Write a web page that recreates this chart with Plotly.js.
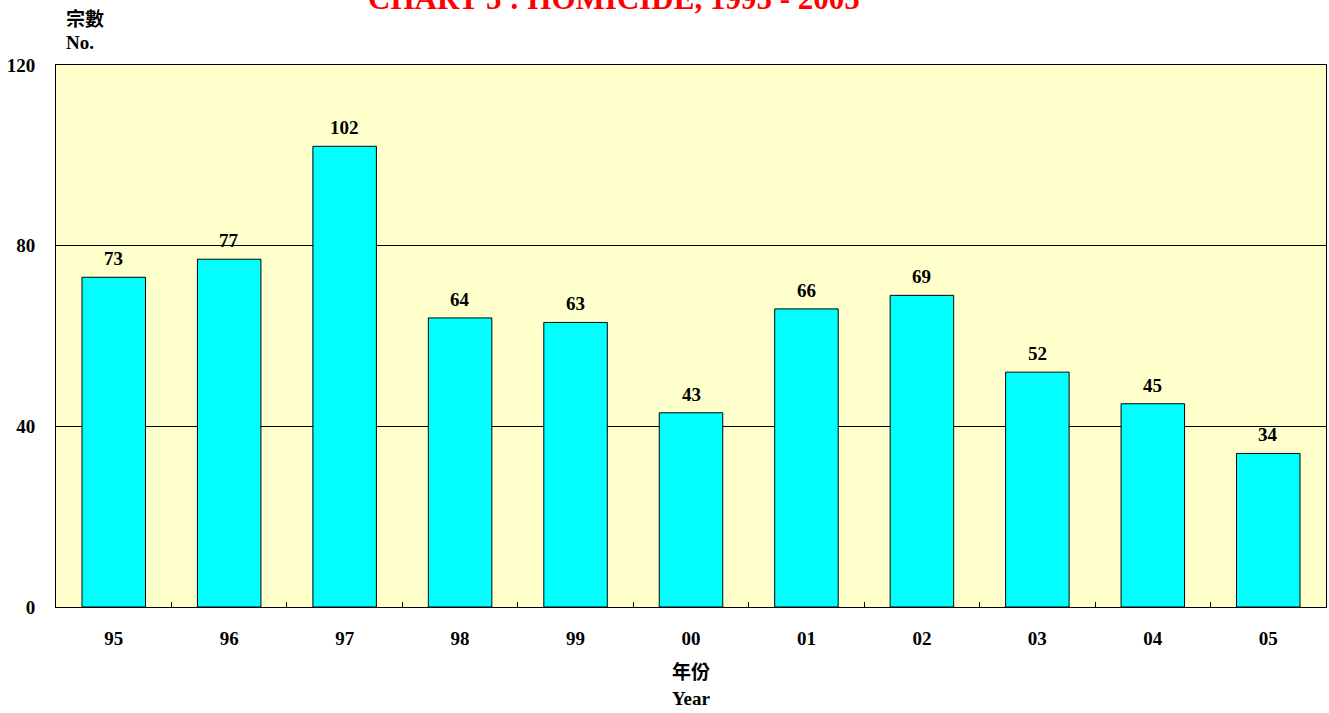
<!DOCTYPE html>
<html>
<head>
<meta charset="utf-8">
<script src="https://cdn.plot.ly/plotly-3.0.1.min.js"></script>
<style>html,body{margin:0;padding:0;background:#fff;}#chart{width:1329px;height:713px;}</style>
</head>
<body>
<div id="chart"></div>
<script>
const years = ["95","96","97","98","99","00","01","02","03","04","05"];
const cases = [73,77,102,64,63,43,66,69,52,45,34];
const yTicks = [0,40,80,120];
const titleText = "CHART 5 : HOMICIDE, 1995 - 2005";

const serif = "'Liberation Serif','Times New Roman',serif";
const cjk = "'Noto Sans CJK TC','Noto Sans CJK SC',sans-serif";
const FS = 19;

const labelAnns = years.map((y, i) => ({
  x: i, y: cases[i], xref: 'x', yref: 'y',
  text: '<b>' + cases[i] + '</b>', showarrow: false,
  yanchor: 'bottom', yshift: 6,
  font: {family: serif, size: FS, color: '#000'}
}));

const otherAnns = [
  {xref:'paper', yref:'paper', x:0.439, y:1.1236, xanchor:'center', yanchor:'middle',
   text:'<b>' + titleText + '</b>', showarrow:false,
   font:{family: serif, size: 31, color:'#ff0000'}},
  {xref:'paper', yref:'paper', x:0, xshift:8, y:(607-18)/542, xanchor:'left', yanchor:'middle',
   text:'<b>宗數</b>', showarrow:false, font:{family: cjk, size:FS, color:'#000'}},
  {xref:'paper', yref:'paper', x:0, xshift:8, y:(607-42)/542, xanchor:'left', yanchor:'middle',
   text:'<b>No.</b>', showarrow:false, font:{family: serif, size:FS, color:'#000'}},
  {xref:'paper', yref:'paper', x:0.5, y:(607-670)/542, xanchor:'center', yanchor:'middle',
   text:'<b>年份</b>', showarrow:false, font:{family: cjk, size:FS, color:'#000'}},
  {xref:'paper', yref:'paper', x:0.5, y:(607-698)/542, xanchor:'center', yanchor:'middle',
   text:'<b>Year</b>', showarrow:false, font:{family: serif, size:FS, color:'#000'}}
];

const trace = {
  type:'bar', x: years, y: cases,
  marker:{color:'#00ffff', line:{color:'#000', width:1}},
  hoverinfo:'x+y'
};

const layout = {
  width:1329, height:713,
  margin:{l:56, r:3, t:65, b:106},
  paper_bgcolor:'#ffffff', plot_bgcolor:'#ffffcc',
  bargap:0.45,
  showlegend:false,
  xaxis:{
    type:'category', range:[-0.5, years.length-0.5], autorange:false,
    tickson:'boundaries', ticks:'inside', ticklen:5, tickcolor:'#000',
    showline:true, linecolor:'#000', linewidth:1, mirror:true,
    showgrid:false, ticklabelstandoff:14, tickangle:0,
    tickfont:{family: serif, size:FS, color:'#000', weight:'bold'}
  },
  yaxis:{
    range:[0,120], autorange:false, tickvals: yTicks, ticktext: yTicks.map(String),
    showgrid:true, gridcolor:'#000', gridwidth:1,
    showline:true, linecolor:'#000', linewidth:1, mirror:true,
    zeroline:false, ticks:'', ticklabelstandoff:16,
    tickfont:{family: serif, size:FS, color:'#000', weight:'bold'}
  },
  annotations: labelAnns.concat(otherAnns)
};

Plotly.newPlot('chart', [trace], layout, {displayModeBar:false, staticPlot:true});
</script>
</body>
</html>
